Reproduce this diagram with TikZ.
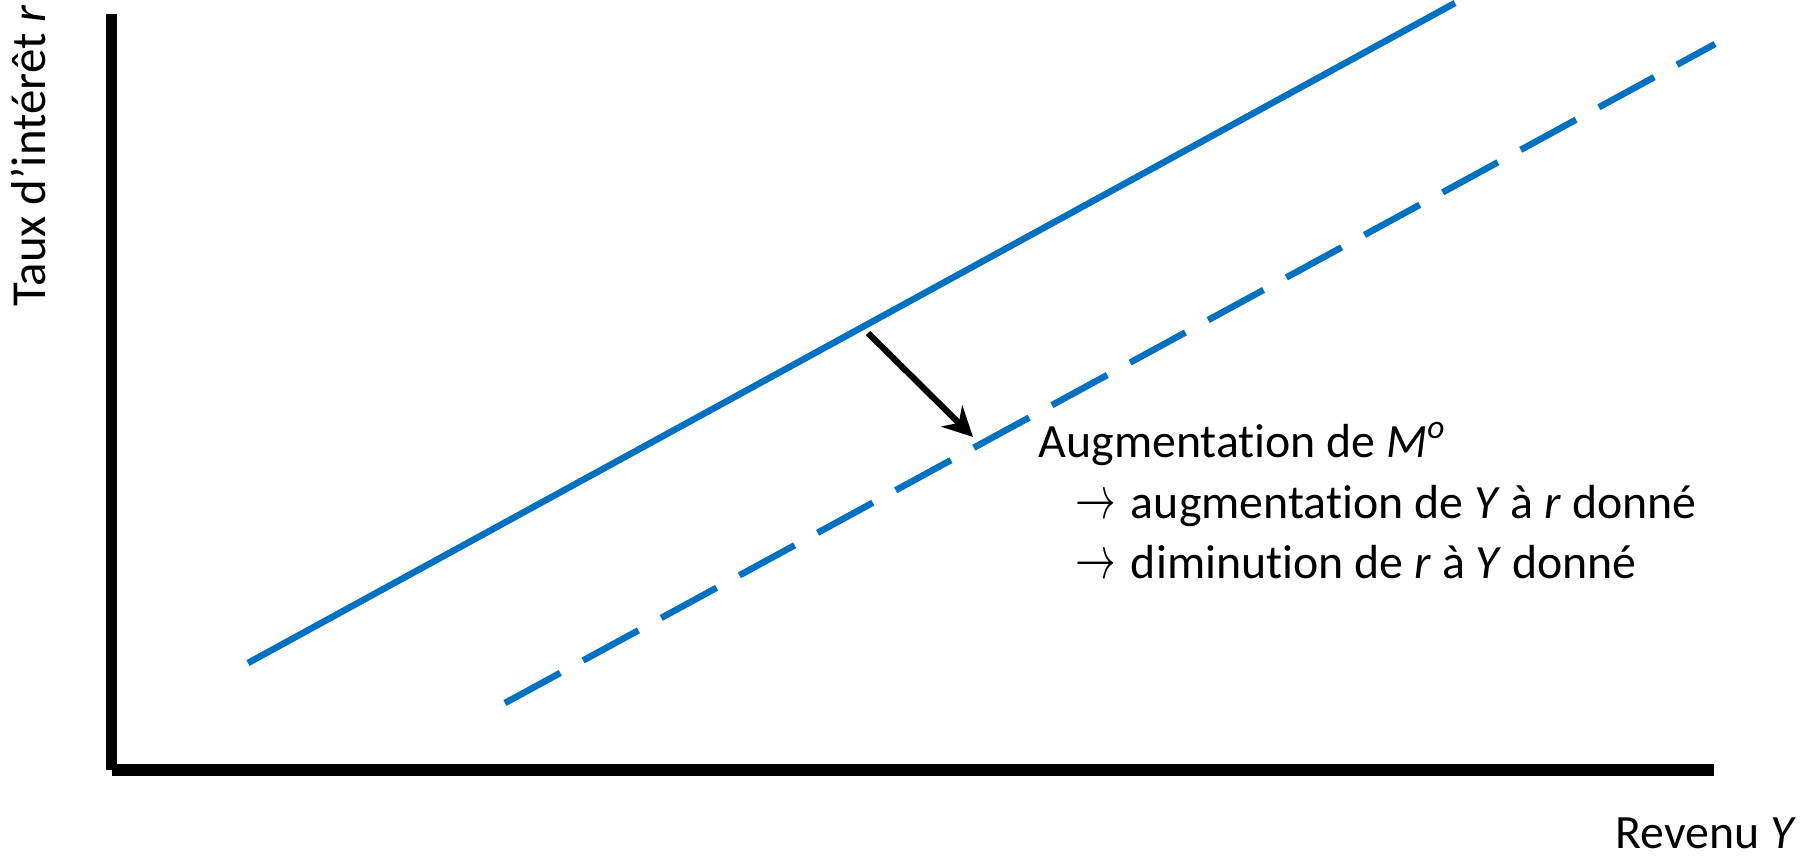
\documentclass[tikz,border=0pt]{standalone}
\usepackage{fontspec}
\usepackage{graphicx}
\setmainfont{Carlito}[Ligatures=NoCommon]
\usetikzlibrary{arrows.meta, positioning, calc}
\definecolor{curveblue}{HTML}{0070C0}
\newcommand{\txtarrow}{\scalebox{0.8}[1.2]{$\rightarrow$}\hspace{4.2pt}}

\begin{document}
\begin{tikzpicture}[x=0.01cm, y=-0.01cm, >={Stealth[length=8.5pt, width=8.5pt, inset=2.8pt]}, line join=miter]
      \useasboundingbox (0,0) rectangle (1812,859);
      \tikzset{
        axis/.style={line width=3.3pt},
        curve/.style={curveblue, line width=1.85pt},
        lbl/.style={inner sep=0pt, font=\fontsize{13.6}{16}\selectfont},
        note/.style={lbl, anchor=base west, text height=9.5pt, text depth=2.5pt}
      }
      % axes
      \draw[axis] (111.5,14) -- (111.5,770);
      \draw[axis] (112,770) -- (1714,770);
      \node[lbl, rotate=90, anchor=base west, font=\fontsize{13.9}{16}\selectfont] (ylab) at (45,307) {Taux d’intérêt \textit{r}};
      \node[lbl, anchor=base west] (xlab) at (1615,848) {Revenu \textit{Y}};
      % LM curves
      \coordinate (LMa) at (248,663);
      \coordinate (LMb) at (1455,3);
      \coordinate (LMc) at (505,703);
      \coordinate (LMd) at (1715,44);
      \draw[curve] (LMa) -- (LMb);
      \draw[curve, dash pattern=on 17.9pt off 7.4pt] (LMc) -- (LMd);
      % shift
      \coordinate (from) at (868,333);
      \coordinate (to) at (973,437);
      \draw[->, line width=1.75pt] (from) -- (to);
      \node[note] (t1) at (1038,457) {Augmentation de \textit{M}\textsuperscript{\textit{o}}};
      \node[note] (t2) at (1075,518) {\txtarrow augmentation de \textit{Y} à \textit{r} donné};
      \node[note] (t3) at (1075,578) {\txtarrow diminution de \textit{r} à \textit{Y} donné};
    \end{tikzpicture}
\end{document}
